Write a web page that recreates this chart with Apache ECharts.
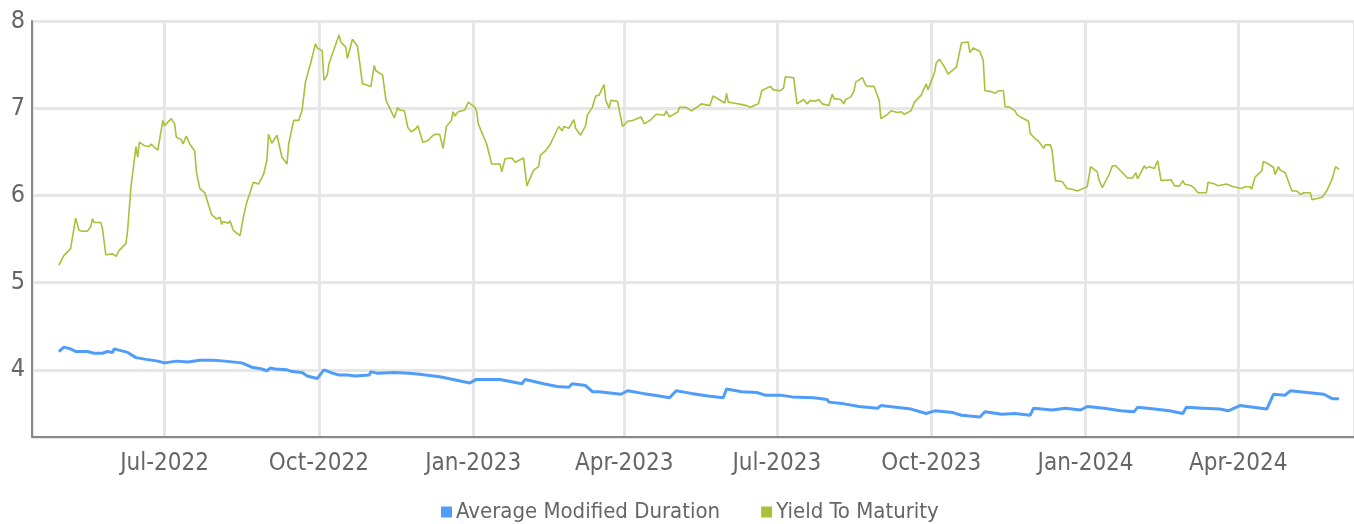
<!DOCTYPE html>
<html>
<head>
<meta charset="utf-8">
<script src="https://cdn.jsdelivr.net/npm/echarts@6/dist/echarts.min.js"></script>
<style>
  html, body { margin: 0; padding: 0; background: #fff; }
  #chart { width: 1354px; height: 524px; }
</style>
</head>
<body>
<div id="chart"></div>
<script>
const seriesNames = ['Average Modified Duration', 'Yield To Maturity'];
const seriesColors = ['#4f9cf9', '#a8c03a'];
const xRange = ['2022-04-13', '2024-06-09'];
const yRange = [3.23, 8];

const averageModifiedDuration = [
  ['2022-04-29', 4.21], ['2022-05-02', 4.26], ['2022-05-06', 4.24], ['2022-05-09', 4.21],
  ['2022-05-16', 4.21], ['2022-05-20', 4.19], ['2022-05-25', 4.19], ['2022-05-28', 4.21],
  ['2022-05-31', 4.20], ['2022-06-01', 4.24], ['2022-06-05', 4.22], ['2022-06-09', 4.20],
  ['2022-06-14', 4.14], ['2022-06-20', 4.12], ['2022-06-27', 4.10], ['2022-07-01', 4.08],
  ['2022-07-08', 4.10], ['2022-07-15', 4.09], ['2022-07-22', 4.11], ['2022-07-30', 4.11],
  ['2022-08-06', 4.10], ['2022-08-16', 4.08], ['2022-08-22', 4.03], ['2022-08-28', 4.01],
  ['2022-08-31', 3.99], ['2022-09-02', 4.02], ['2022-09-05', 4.01], ['2022-09-12', 4.00],
  ['2022-09-15', 3.98], ['2022-09-21', 3.97], ['2022-09-24', 3.93], ['2022-09-30', 3.90],
  ['2022-10-04', 4.00], ['2022-10-08', 3.97], ['2022-10-13', 3.94], ['2022-10-18', 3.94],
  ['2022-10-23', 3.93], ['2022-10-31', 3.94], ['2022-11-01', 3.98], ['2022-11-05', 3.96],
  ['2022-11-15', 3.97], ['2022-11-24', 3.96], ['2022-11-30', 3.95], ['2022-12-12', 3.92],
  ['2022-12-20', 3.89], ['2022-12-30', 3.85], ['2023-01-03', 3.89], ['2023-01-17', 3.89],
  ['2023-01-30', 3.84], ['2023-02-01', 3.89], ['2023-02-12', 3.84], ['2023-02-20', 3.81],
  ['2023-02-27', 3.80], ['2023-03-01', 3.84], ['2023-03-09', 3.82], ['2023-03-13', 3.75],
  ['2023-03-17', 3.75], ['2023-03-30', 3.72], ['2023-04-03', 3.76], ['2023-04-12', 3.73],
  ['2023-04-22', 3.70], ['2023-04-28', 3.68], ['2023-05-02', 3.76], ['2023-05-11', 3.73],
  ['2023-05-21', 3.70], ['2023-05-30', 3.68], ['2023-06-01', 3.78], ['2023-06-10', 3.75],
  ['2023-06-19', 3.74], ['2023-06-24', 3.71], ['2023-07-01', 3.71], ['2023-07-03', 3.71],
  ['2023-07-10', 3.69], ['2023-07-23', 3.68], ['2023-07-31', 3.66], ['2023-08-01', 3.63],
  ['2023-08-10', 3.61], ['2023-08-19', 3.58], ['2023-08-30', 3.56], ['2023-09-01', 3.59],
  ['2023-09-10', 3.57], ['2023-09-19', 3.55], ['2023-09-28', 3.50], ['2023-10-03', 3.53],
  ['2023-10-14', 3.51], ['2023-10-19', 3.48], ['2023-10-24', 3.47], ['2023-10-30', 3.46],
  ['2023-11-02', 3.52], ['2023-11-12', 3.49], ['2023-11-20', 3.50], ['2023-11-29', 3.48],
  ['2023-12-01', 3.56], ['2023-12-12', 3.54], ['2023-12-20', 3.56], ['2023-12-29', 3.54],
  ['2024-01-02', 3.58], ['2024-01-12', 3.56], ['2024-01-22', 3.53], ['2024-01-30', 3.52],
  ['2024-02-01', 3.57], ['2024-02-11', 3.55], ['2024-02-20', 3.53], ['2024-02-28', 3.50],
  ['2024-03-01', 3.57], ['2024-03-11', 3.56], ['2024-03-21', 3.55], ['2024-03-26', 3.53],
  ['2024-04-02', 3.59], ['2024-04-10', 3.57], ['2024-04-18', 3.55], ['2024-04-22', 3.72],
  ['2024-04-29', 3.71], ['2024-05-02', 3.76], ['2024-05-12', 3.74], ['2024-05-22', 3.72],
  ['2024-05-27', 3.67], ['2024-05-31', 3.67]
];

const yieldToMaturity = [
  ['2022-04-29', 5.20], ['2022-05-02', 5.31], ['2022-05-06', 5.39], ['2022-05-09', 5.74],
  ['2022-05-11', 5.60], ['2022-05-12', 5.62], ['2022-05-13', 5.59], ['2022-05-16', 5.59],
  ['2022-05-18', 5.64], ['2022-05-19', 5.73], ['2022-05-20', 5.69], ['2022-05-24', 5.69],
  ['2022-05-25', 5.62], ['2022-05-27', 5.32], ['2022-05-31', 5.33], ['2022-06-02', 5.30],
  ['2022-06-04', 5.37], ['2022-06-08', 5.45], ['2022-06-09', 5.60], ['2022-06-11', 6.10],
  ['2022-06-14', 6.56], ['2022-06-15', 6.44], ['2022-06-16', 6.61], ['2022-06-19', 6.57],
  ['2022-06-22', 6.56], ['2022-06-23', 6.59], ['2022-06-25', 6.55], ['2022-06-27', 6.52],
  ['2022-06-30', 6.86], ['2022-07-01', 6.80], ['2022-07-05', 6.88], ['2022-07-07', 6.82],
  ['2022-07-08', 6.67], ['2022-07-11', 6.64], ['2022-07-12', 6.59], ['2022-07-14', 6.68],
  ['2022-07-16', 6.59], ['2022-07-19', 6.51], ['2022-07-20', 6.27], ['2022-07-22', 6.08],
  ['2022-07-25', 6.03], ['2022-07-26', 6.05], ['2022-07-29', 5.78], ['2022-08-01', 5.73],
  ['2022-08-03', 5.75], ['2022-08-04', 5.67], ['2022-08-05', 5.70], ['2022-08-06', 5.69],
  ['2022-08-08', 5.68], ['2022-08-09', 5.71], ['2022-08-11', 5.60], ['2022-08-15', 5.54],
  ['2022-08-17', 5.75], ['2022-08-19', 5.92], ['2022-08-23', 6.15], ['2022-08-26', 6.13],
  ['2022-08-29', 6.24], ['2022-08-31', 6.40], ['2022-09-01', 6.70], ['2022-09-03', 6.60],
  ['2022-09-06', 6.69], ['2022-09-09', 6.44], ['2022-09-12', 6.36], ['2022-09-13', 6.59],
  ['2022-09-16', 6.86], ['2022-09-19', 6.86], ['2022-09-21', 6.98], ['2022-09-23', 7.30],
  ['2022-09-26', 7.51], ['2022-09-29', 7.74], ['2022-09-30', 7.69], ['2022-10-03', 7.66],
  ['2022-10-04', 7.32], ['2022-10-06', 7.38], ['2022-10-07', 7.51], ['2022-10-13', 7.84],
  ['2022-10-14', 7.76], ['2022-10-17', 7.70], ['2022-10-18', 7.57], ['2022-10-21', 7.79],
  ['2022-10-24', 7.71], ['2022-10-27', 7.28], ['2022-11-01', 7.25], ['2022-11-02', 7.26],
  ['2022-11-03', 7.49], ['2022-11-04', 7.43], ['2022-11-08', 7.38], ['2022-11-09', 7.39],
  ['2022-11-10', 7.09], ['2022-11-15', 6.89], ['2022-11-17', 7.01], ['2022-11-18', 6.98],
  ['2022-11-21', 6.97], ['2022-11-23', 6.78], ['2022-11-25', 6.73], ['2022-11-28', 6.77],
  ['2022-11-29', 6.80], ['2022-12-02', 6.61], ['2022-12-05', 6.63], ['2022-12-07', 6.67],
  ['2022-12-09', 6.70], ['2022-12-12', 6.70], ['2022-12-14', 6.54], ['2022-12-16', 6.79],
  ['2022-12-19', 6.86], ['2022-12-20', 6.96], ['2022-12-21', 6.91], ['2022-12-23', 6.96],
  ['2022-12-27', 6.98], ['2022-12-29', 7.07], ['2023-01-02', 7.01], ['2023-01-03', 6.97],
  ['2023-01-04', 6.82], ['2023-01-05', 6.84], ['2023-01-09', 6.59], ['2023-01-10', 6.60],
  ['2023-01-12', 6.36], ['2023-01-17', 6.36], ['2023-01-18', 6.27], ['2023-01-20', 6.42],
  ['2023-01-24', 6.43], ['2023-01-26', 6.38], ['2023-01-31', 6.43], ['2023-02-02', 6.11],
  ['2023-02-06', 6.29], ['2023-02-09', 6.33], ['2023-02-10', 6.46], ['2023-02-13', 6.51],
  ['2023-02-16', 6.59], ['2023-02-21', 6.79], ['2023-02-23', 6.74], ['2023-02-24', 6.79],
  ['2023-02-27', 6.77], ['2023-03-02', 6.87], ['2023-03-03', 6.77], ['2023-03-06', 6.69],
  ['2023-03-09', 6.80], ['2023-03-10', 6.92], ['2023-03-13', 7.01], ['2023-03-15', 7.14],
  ['2023-03-17', 7.15], ['2023-03-20', 7.27], ['2023-03-21', 7.09], ['2023-03-23', 7.00],
  ['2023-03-24', 7.09], ['2023-03-28', 7.08], ['2023-03-29', 7.06], ['2023-03-31', 6.79],
  ['2023-04-03', 6.85], ['2023-04-06', 6.86], ['2023-04-11', 6.90], ['2023-04-13', 6.82],
  ['2023-04-17', 6.87], ['2023-04-18', 6.85], ['2023-04-20', 6.93], ['2023-04-25', 6.92],
  ['2023-04-26', 6.97], ['2023-04-27', 6.97], ['2023-04-28', 6.90], ['2023-05-03', 6.96],
  ['2023-05-04', 7.01], ['2023-05-08', 7.01], ['2023-05-09', 7.03], ['2023-05-11', 6.97],
  ['2023-05-15', 7.02], ['2023-05-17', 7.05], ['2023-05-22', 7.03], ['2023-05-24', 7.14],
  ['2023-05-25', 7.16], ['2023-05-31', 7.06], ['2023-06-01', 7.17], ['2023-06-02', 7.07],
  ['2023-06-05', 7.06], ['2023-06-08', 7.05], ['2023-06-13', 7.03], ['2023-06-15', 7.01],
  ['2023-06-20', 7.05], ['2023-06-22', 7.20], ['2023-06-27', 7.25], ['2023-06-29', 7.21],
  ['2023-06-30', 7.20], ['2023-07-03', 7.20], ['2023-07-05', 7.23], ['2023-07-06', 7.36],
  ['2023-07-11', 7.35], ['2023-07-13', 7.05], ['2023-07-17', 7.10], ['2023-07-19', 7.05],
  ['2023-07-21', 7.09], ['2023-07-24', 7.08], ['2023-07-26', 7.10], ['2023-07-28', 7.05],
  ['2023-08-01', 7.03], ['2023-08-03', 7.16], ['2023-08-04', 7.11], ['2023-08-08', 7.10],
  ['2023-08-10', 7.05], ['2023-08-11', 7.10], ['2023-08-14', 7.13], ['2023-08-16', 7.20],
  ['2023-08-17', 7.30], ['2023-08-21', 7.35], ['2023-08-23', 7.26], ['2023-08-25', 7.25],
  ['2023-08-28', 7.25], ['2023-08-30', 7.14], ['2023-08-31', 7.09], ['2023-09-01', 6.88],
  ['2023-09-05', 6.93], ['2023-09-07', 6.97], ['2023-09-11', 6.95], ['2023-09-13', 6.96],
  ['2023-09-15', 6.93], ['2023-09-19', 6.97], ['2023-09-20', 6.98], ['2023-09-21', 7.07],
  ['2023-09-25', 7.15], ['2023-09-28', 7.28], ['2023-09-29', 7.21], ['2023-10-03', 7.41],
  ['2023-10-04', 7.52], ['2023-10-06', 7.56], ['2023-10-09', 7.47], ['2023-10-11', 7.39],
  ['2023-10-16', 7.47], ['2023-10-19', 7.75], ['2023-10-23', 7.76], ['2023-10-24', 7.64],
  ['2023-10-26', 7.69], ['2023-10-30', 7.65], ['2023-11-01', 7.55], ['2023-11-02', 7.20],
  ['2023-11-06', 7.19], ['2023-11-07', 7.20], ['2023-11-08', 7.17], ['2023-11-10', 7.20],
  ['2023-11-13', 7.20], ['2023-11-14', 7.02], ['2023-11-17', 7.01], ['2023-11-20', 6.97],
  ['2023-11-21', 6.93], ['2023-11-24', 6.89], ['2023-11-28', 6.85], ['2023-11-29', 6.71],
  ['2023-12-02', 6.65], ['2023-12-04', 6.62], ['2023-12-07', 6.54], ['2023-12-08', 6.58],
  ['2023-12-11', 6.58], ['2023-12-12', 6.52], ['2023-12-14', 6.17], ['2023-12-15', 6.15],
  ['2023-12-18', 6.16], ['2023-12-21', 6.08], ['2023-12-24', 6.07], ['2023-12-27', 6.05],
  ['2024-01-02', 6.10], ['2024-01-03', 6.21], ['2024-01-04', 6.33], ['2024-01-08', 6.27],
  ['2024-01-09', 6.18], ['2024-01-11', 6.09], ['2024-01-15', 6.24], ['2024-01-17', 6.34],
  ['2024-01-19', 6.34], ['2024-01-22', 6.28], ['2024-01-23', 6.26], ['2024-01-26', 6.20],
  ['2024-01-29', 6.20], ['2024-01-31', 6.26], ['2024-02-01', 6.19], ['2024-02-05', 6.34],
  ['2024-02-06', 6.31], ['2024-02-08', 6.33], ['2024-02-11', 6.31], ['2024-02-13', 6.40],
  ['2024-02-15', 6.17], ['2024-02-16', 6.19], ['2024-02-21', 6.18], ['2024-02-23', 6.11],
  ['2024-02-26', 6.11], ['2024-02-28', 6.17], ['2024-02-29', 6.13], ['2024-03-04', 6.11],
  ['2024-03-06', 6.08], ['2024-03-08', 6.03], ['2024-03-13', 6.03], ['2024-03-14', 6.15],
  ['2024-03-18', 6.13], ['2024-03-20', 6.11], ['2024-03-21', 6.13], ['2024-03-25', 6.13],
  ['2024-03-29', 6.10], ['2024-04-03', 6.08], ['2024-04-04', 6.06], ['2024-04-05', 6.10],
  ['2024-04-08', 6.10], ['2024-04-09', 6.07], ['2024-04-11', 6.21], ['2024-04-15', 6.28],
  ['2024-04-16', 6.39], ['2024-04-19', 6.36], ['2024-04-22', 6.32], ['2024-04-23', 6.24],
  ['2024-04-25', 6.33], ['2024-04-26', 6.29], ['2024-04-29', 6.26], ['2024-04-30', 6.28],
  ['2024-05-03', 6.05], ['2024-05-06', 6.05], ['2024-05-08', 6.01], ['2024-05-10', 6.03],
  ['2024-05-14', 6.03], ['2024-05-15', 5.95], ['2024-05-21', 5.98], ['2024-05-24', 6.06],
  ['2024-05-27', 6.19], ['2024-05-29', 6.33], ['2024-05-31', 6.30]
];

const monthNames = ['Jan', 'Feb', 'Mar', 'Apr', 'May', 'Jun', 'Jul', 'Aug', 'Sep', 'Oct', 'Nov', 'Dec'];
const font = "'DejaVu Sans Condensed', sans-serif";
const textColor = '#666';

function formatMonth(value) {
  const d = new Date(value);
  return `${monthNames[d.getMonth()]}-${d.getFullYear()}`;
}

const chart = echarts.init(document.getElementById('chart'));

chart.setOption({
  animation: false,
  color: seriesColors,
  grid: {left: 32, right: -2, top: 21, bottom: 87, containLabel: false},
  legend: {
    left: 436,
    bottom: -4,
    icon: 'rect',
    itemWidth: 11,
    itemHeight: 11,
    itemGap: 41,
    textStyle: {fontFamily: font, fontSize: 22, color: textColor, padding: [0, 0, 0, -1]},
    data: seriesNames
  },
  xAxis: {
    type: 'time',
    min: xRange[0],
    max: xRange[1],
    splitNumber: 8,
    axisLine: {lineStyle: {color: '#888', width: 2}},
    axisTick: {show: false},
    axisLabel: {
      fontFamily: font,
      fontSize: 24,
      color: textColor,
      margin: 15,
      showMinLabel: false,
      showMaxLabel: false,
      hideOverlap: false,
      formatter: formatMonth
    },
    splitLine: {show: true, lineStyle: {color: '#e6e6e6', width: 3}}
  },
  yAxis: {
    type: 'value',
    min: yRange[0],
    max: yRange[1],
    axisLine: {show: true, lineStyle: {color: '#888', width: 2}},
    axisTick: {show: false},
    axisLabel: {
      fontFamily: font,
      fontSize: 25,
      color: textColor,
      margin: 7,
      showMinLabel: false,
      formatter: (v) => (Number.isInteger(v) ? String(v) : '')
    },
    splitLine: {lineStyle: {color: '#e6e6e6', width: 3}}
  },
  series: [
    {
      name: seriesNames[0],
      type: 'line',
      data: averageModifiedDuration,
      showSymbol: false,
      lineStyle: {width: 3}
    },
    {
      name: seriesNames[1],
      type: 'line',
      data: yieldToMaturity,
      showSymbol: false,
      lineStyle: {width: 1.6}
    }
  ]
});
</script>
</body>
</html>
